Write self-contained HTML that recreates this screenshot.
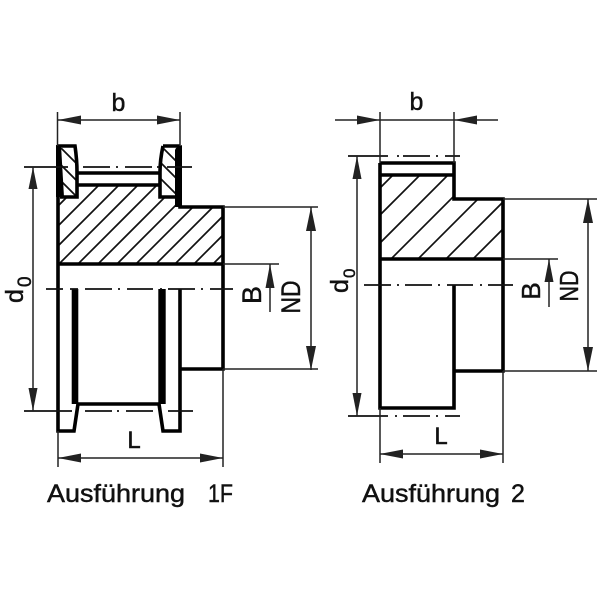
<!DOCTYPE html>
<html><head><meta charset="utf-8"><style>
html,body{margin:0;padding:0;background:#fff}
svg{display:block}
text{font-family:"Liberation Sans",sans-serif;fill:#111;stroke:#111;stroke-width:.45}
</style></head><body>
<svg width="600" height="600" viewBox="0 0 600 600" xmlns="http://www.w3.org/2000/svg">
<defs>
<clipPath id="h1"><polygon points="59,198 78,198 78,186 160,186 160,198 180,198 180,208 223,208 223,264 59,264"/></clipPath>
<clipPath id="h2"><polygon points="380,176 454,176 454,199 503,199 503,259 380,259"/></clipPath>
<clipPath id="f1"><polygon points="61,148 75,148 77,172 77,196 63,196"/></clipPath>
<clipPath id="f2"><polygon points="163,148 178,148 175,196 161,196 160,172"/></clipPath>
</defs>
<rect width="600" height="600" fill="#fff"/>

<!-- LEFT hatch -->
<g clip-path="url(#h1)" stroke="#111" stroke-width="1.7">
<line x1="39" y1="225" x2="169" y2="95"/>
<line x1="46" y1="238" x2="176" y2="108"/>
<line x1="40" y1="264" x2="195" y2="109"/>
<line x1="59" y1="264" x2="214" y2="109"/>
<line x1="78" y1="264" x2="233" y2="109"/>
<line x1="98" y1="264" x2="253" y2="109"/>
<line x1="117" y1="264" x2="272" y2="109"/>
<line x1="136" y1="264" x2="291" y2="109"/>
<line x1="156" y1="264" x2="311" y2="109"/>
<line x1="175" y1="264" x2="330" y2="109"/>
<line x1="194" y1="264" x2="349" y2="109"/>
<line x1="213" y1="264" x2="368" y2="109"/>
</g>
<g clip-path="url(#f1)" stroke="#111" stroke-width="1.7">
<line x1="60" y1="147" x2="80" y2="167"/>
<line x1="60" y1="164" x2="80" y2="184"/>
<line x1="60" y1="180" x2="80" y2="200"/>
</g>
<g clip-path="url(#f2)" stroke="#111" stroke-width="1.7">
<line x1="160" y1="145" x2="180" y2="165"/>
<line x1="160" y1="162" x2="180" y2="182"/>
<line x1="160" y1="178" x2="180" y2="198"/>
</g>

<!-- LEFT outlines -->
<g fill="none" stroke="#000" stroke-width="3.6">
<path d="M58,146 H75 Q77,160 77,172 V197 H60"/>
<path d="M163,146 H180 M163,146 Q160,160 160,172 V197 H176"/>
<path d="M180,146 V207 H223 V369 H180"/>
<path d="M58,146 V431 H74 L78,404 H159 L163,431 H180 V289"/>
<path d="M58,264 H223"/>
<path d="M77,173 H160 M77,185 H160"/>
</g>
<polygon points="56,145 61,145 64,197 56,197" fill="#000"/>
<polygon points="176,148 182,145 182,207 175,207 175,150" fill="#000"/>
<rect x="71.7" y="289" width="6.6" height="115" fill="#000"/>
<rect x="158.3" y="289" width="7.4" height="115" fill="#000"/>

<!-- LEFT centre lines -->
<g stroke="#111" stroke-width="1.7" fill="none">
<path d="M24,167 H68 M83,167 H110 M116,167 H118 M125,167 H152 M157,167 H159 M167,167 H192"/>
<path d="M46,289 H63 M70,289 H78 M85,289 H112 M118,289 H120 M127,289 H153 M160,289 H162 M168,289 H195 M201,289 H203 M210,289 H233"/>
<path d="M24,411 H72 M85,411 H112 M117,411 H119 M126,411 H153 M168,411 H193"/>
</g>

<!-- LEFT dimensions -->
<g stroke="#222" stroke-width="1.5" fill="none">
<path d="M57.5,112 V146 M180,112 V146"/>
<path d="M58,120 H180"/>
<path d="M33,167 V411"/>
<path d="M58,431 V467 M223,369 V467"/>
<path d="M58,458 H223"/>
<path d="M223,207 H318 M223,264 H279 M223,369 H318"/>
<path d="M270,264 V312"/>
<path d="M311,207 V370"/>
</g>
<g fill="#222">
<polygon points="58,120 81,115.5 81,124.5"/>
<polygon points="180,120 157,115.5 157,124.5"/>
<polygon points="33,167 28.5,189 37.5,189"/>
<polygon points="33,411 28.5,388 37.5,388"/>
<polygon points="58,458 81,453.5 81,462.5"/>
<polygon points="223,458 200,453.5 200,462.5"/>
<polygon points="270,264 265.5,288 274.5,288"/>
<polygon points="311,207 306,231 316,231"/>
<polygon points="311,370 306,346 316,346"/>
</g>

<!-- RIGHT hatch -->
<g clip-path="url(#h2)" stroke="#111" stroke-width="1.7">
<line x1="370" y1="198" x2="400" y2="168"/>
<line x1="370" y1="225" x2="430" y2="165"/>
<line x1="370" y1="253" x2="460" y2="163"/>
<line x1="386" y1="264" x2="490" y2="160"/>
<line x1="413" y1="264" x2="517" y2="160"/>
<line x1="441" y1="264" x2="545" y2="160"/>
<line x1="468" y1="264" x2="572" y2="160"/>
</g>

<!-- RIGHT outlines -->
<g fill="none" stroke="#000" stroke-width="3.6">
<path d="M380,163 H454 V199 H503 V371 H454"/>
<path d="M380,163 V408 H454 V285"/>
<path d="M380,175 H454"/>
<path d="M380,259 H503"/>
</g>

<!-- RIGHT centre lines -->
<g stroke="#111" stroke-width="1.7" fill="none">
<path d="M348,156 H388 M397,156 H399 M403,156 H430 M436,156 H438 M445,156 H460"/>
<path d="M348,416 H388 M395,416 H397 M403,416 H430 M436,416 H438 M445,416 H460"/>
<path d="M364,285 H391 M397,285 H399 M405,285 H432 M438,285 H440 M447,285 H473 M480,285 H482 M488,285 H513"/>
</g>

<!-- RIGHT dimensions -->
<g stroke="#222" stroke-width="1.5" fill="none">
<path d="M380,112 V163 M454,112 V163"/>
<path d="M335,120 H498"/>
<path d="M357,156 V416"/>
<path d="M380,408 V463 M503,371 V463"/>
<path d="M380,454 H503"/>
<path d="M503,199 H597 M503,259 H558 M503,371 H597"/>
<path d="M549,259 V307"/>
<path d="M588,199 V371"/>
</g>
<g fill="#222">
<polygon points="380,120 357,115.5 357,124.5"/>
<polygon points="454,120 477,115.5 477,124.5"/>
<polygon points="357,156 352.5,179 361.5,179"/>
<polygon points="357,416 352.5,393 361.5,393"/>
<polygon points="380,454 403,449.5 403,458.5"/>
<polygon points="503,454 480,449.5 480,458.5"/>
<polygon points="549,259 544.5,282 553.5,282"/>
<polygon points="588,199 583,223 593,223"/>
<polygon points="588,371 583,347 593,347"/>
</g>

<!-- Labels -->
<text x="118.5" y="111" font-size="25" text-anchor="middle">b</text>
<text x="416.5" y="110" font-size="25" text-anchor="middle">b</text>
<text x="134" y="448" font-size="24" text-anchor="middle">L</text>
<text x="441" y="444" font-size="24" text-anchor="middle">L</text>

<text transform="translate(23,303) rotate(-90)" font-size="25">d</text>
<text transform="translate(31,287) rotate(-90)" font-size="19">0</text>
<text transform="translate(348,293) rotate(-90)" font-size="25">d</text>
<text transform="translate(355,278) rotate(-90)" font-size="17">0</text>

<text transform="translate(261,295) rotate(-90)" font-size="27" text-anchor="middle">B</text>
<text transform="translate(300,297) rotate(-90)" font-size="27" text-anchor="middle" textLength="33" lengthAdjust="spacingAndGlyphs">ND</text>
<text transform="translate(540,291) rotate(-90)" font-size="26" text-anchor="middle">B</text>
<text transform="translate(578,286) rotate(-90)" font-size="26" text-anchor="middle" textLength="31" lengthAdjust="spacingAndGlyphs">ND</text>

<text x="47" y="502" font-size="25" textLength="138" lengthAdjust="spacingAndGlyphs">Ausführung</text>
<text x="208" y="502" font-size="25" textLength="25" lengthAdjust="spacingAndGlyphs">1F</text>
<text x="362" y="502" font-size="25" textLength="138" lengthAdjust="spacingAndGlyphs">Ausführung</text>
<text x="511" y="502" font-size="25">2</text>
</svg>
</body></html>
